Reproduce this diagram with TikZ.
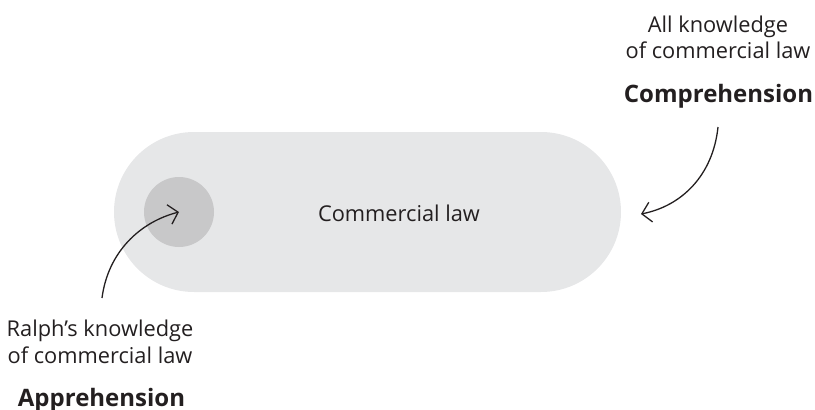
\documentclass[tikz,border=0pt]{standalone}
\usepackage{fontspec}
\setmainfont{Open Sans}
\usetikzlibrary{arrows.meta}
\definecolor{pillgray}{HTML}{E6E7E8}
\definecolor{dotgray}{HTML}{C8C8C9}
\definecolor{ink}{HTML}{231F20}
\tikzset{
  lbl/.style={text=ink, font=\fontsize{21.8}{27}\selectfont, inner sep=0pt, anchor=base},
  boldlbl/.style={lbl, font=\fontsize{24}{27}\selectfont\bfseries},
  pointer/.style={draw=ink, line width=1.3pt, -{Straight Barb[length=9pt,width=20pt,line width=1.3pt]}}
}
\begin{document}
\begin{tikzpicture}[x=1pt,y=-1pt]
\useasboundingbox (0,0) rectangle (815,410);
\node[fill=pillgray, rounded corners=80pt, minimum width=507pt, minimum height=160pt, inner sep=0pt] (pill) at (367.5,212) {};
\node[fill=dotgray, circle, minimum size=70pt, inner sep=0pt] (ralph) at (179,212) {};
\node[lbl] (cl) at (399,221) {Commercial law};
\node[lbl] (all1) at (718,32) {All knowledge};
\node[lbl] (all2) at (718,58) {of commercial law};
\node[boldlbl] (comp) at (718.5,102) {Comprehension};
\node[lbl] (r1) at (100,336) {Ralph’s knowledge};
\node[lbl] (r2) at (100,363) {of commercial law};
\node[boldlbl] (appr) at (101.5,406) {Apprehension};
\coordinate (a1s) at (102,298);
\coordinate (a2s) at (718,127);
\coordinate (a2e) at (641,214);
\draw[pointer] (a1s) .. controls (108,252) and (140,222) .. (ralph.center);
\draw[pointer] (a2s) .. controls (713,175) and (682,206) .. (a2e);
\end{tikzpicture}
\end{document}
